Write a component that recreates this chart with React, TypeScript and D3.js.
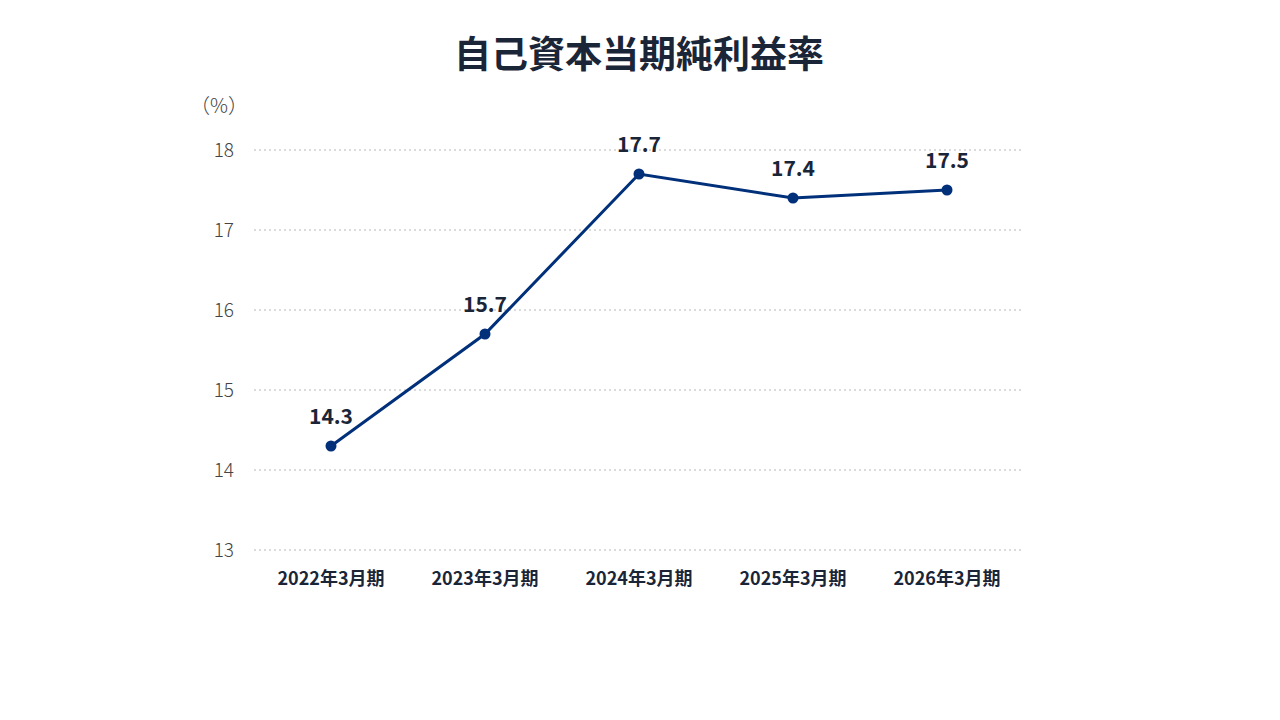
import React from "react";
import * as d3 from "d3";

const categories = ["2022年3月期", "2023年3月期", "2024年3月期", "2025年3月期", "2026年3月期"];
const values = [14.3, 15.7, 17.7, 17.4, 17.5];
const yTicks = [13, 14, 15, 16, 17, 18];
const title = "自己資本当期純利益率";
const unitLabel = "（%）";

const W = 1280;
const H = 720;
const FONT = "'Noto Sans CJK JP', 'Noto Sans', sans-serif";
const TEXT = "#1b2538";
const LINE = "#00307a";

export default function App() {
  const x = d3.scaleBand<string>().domain(categories).range([254, 1024]).padding(0);
  const y = d3.scaleLinear().domain([13, 18]).range([550, 150]);
  const cx = (c: string) => (x(c) as number) + x.bandwidth() / 2;
  const line = d3
    .line<number>()
    .x((_, i) => cx(categories[i]))
    .y((d) => y(d));

  return (
    <svg width={W} height={H} style={{ display: "block", position: "absolute", left: 0, top: 0 }} fontFamily={FONT}>
      <rect width={W} height={H} fill="#fff" />
      <text x={639} y={68} textAnchor="middle" fontSize={37} fontWeight={700} fill={TEXT}>
        {title}
      </text>
      <text x={219} y={113} textAnchor="middle" fontSize={20} fontWeight={300} fill="#444">
        {unitLabel}
      </text>
      {yTicks.map((t) => (
        <g key={t}>
          <line x1={254} x2={1024} y1={y(t)} y2={y(t)} stroke="#d0d0d0" strokeWidth={1.5} strokeDasharray="2 3" />
          <text x={234} y={y(t) + 7} textAnchor="end" fontSize={19} fontWeight={300} fill="#444">
            {t}
          </text>
        </g>
      ))}
      {categories.map((c) => (
        <text key={c} x={cx(c)} y={585} textAnchor="middle" fontSize={18} fontWeight={700} fill={TEXT}>
          {c}
        </text>
      ))}
      <path d={line(values) || ""} fill="none" stroke={LINE} strokeWidth={3} />
      {values.map((v, i) => (
        <g key={i}>
          <circle cx={cx(categories[i])} cy={y(v)} r={5.5} fill={LINE} />
          <text x={cx(categories[i])} y={y(v) - 22} textAnchor="middle" fontSize={21} fontWeight={700} fill={TEXT}>
            {v.toFixed(1)}
          </text>
        </g>
      ))}
    </svg>
  );
}
